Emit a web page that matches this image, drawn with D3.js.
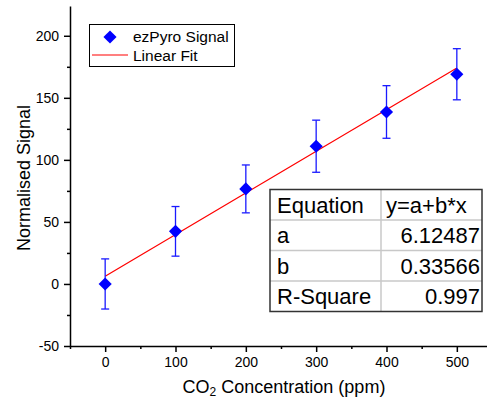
<!DOCTYPE html>
<html>
<head>
<meta charset="utf-8">
<script src="https://cdn.jsdelivr.net/npm/d3@7"></script>
<style>
  body { margin: 0; background: #fff; }
  text { font-family: "Liberation Sans", Arial, sans-serif; }
</style>
</head>
<body>
<svg id="chart" width="487" height="400"></svg>
<script>
// data
var concentrations = [0, 100, 200, 300, 400, 500];
var signals = [0, 42.4, 76.6, 111, 138.6, 169];
var errors = [20.2, 20, 19.3, 21, 21.2, 20.6];
var fitA = 6.12487, fitB = 0.33566;
var tableRows = [["Equation", "y=a+b*x"], ["a", "6.12487"], ["b", "0.33566"], ["R-Square", "0.997"]];
var xTicks = [0, 100, 200, 300, 400, 500];
var yTicks = [-50, 0, 50, 100, 150, 200];

var svg = d3.select("#chart");
var x = d3.scaleLinear().domain([-50, 550]).range([70, 492]);
var y = d3.scaleLinear().domain([-50, 224]).range([346, 6]);

// minor ticks
svg.append("g").attr("transform", "translate(0,346)")
  .call(d3.axisBottom(x).tickValues(d3.range(-50, 551, 100)).tickSize(3).tickFormat(""))
  .call(function (g) { g.select(".domain").remove(); });
svg.append("g").attr("transform", "translate(70,0)")
  .call(d3.axisLeft(y).tickValues(d3.range(-25, 224, 50)).tickSize(3).tickFormat(""))
  .call(function (g) { g.select(".domain").remove(); });

// major axes
var xAxis = svg.append("g").attr("transform", "translate(0,346)")
  .call(d3.axisBottom(x).tickValues(xTicks).tickSize(6).tickPadding(5).tickSizeOuter(0).tickFormat(String));
var yAxis = svg.append("g").attr("transform", "translate(70,0)")
  .call(d3.axisLeft(y).tickValues(yTicks).tickSize(6).tickPadding(5).tickSizeOuter(0).tickFormat(String));
[xAxis, yAxis].forEach(function (g) {
  g.selectAll("text").attr("font-size", 14).attr("fill", "#000")
    .style("font-family", "'Liberation Sans', Arial, sans-serif");
  g.selectAll("line, path").attr("stroke", "#000").attr("stroke-width", 1.5);
});
svg.selectAll("g .tick line").attr("stroke", "#000").attr("stroke-width", 1.5);

// axis titles
var xt = svg.append("text").attr("x", 284).attr("y", 393).attr("text-anchor", "middle").attr("font-size", 18);
xt.append("tspan").text("CO");
xt.append("tspan").attr("font-size", 12).attr("dy", 3).text("2");
xt.append("tspan").attr("dy", -3).text(" Concentration (ppm)");
svg.append("text").attr("transform", "translate(29.5,178) rotate(-90)")
  .attr("text-anchor", "middle").attr("font-size", 18).text("Normalised Signal");

// fit line
svg.append("line")
  .attr("x1", x(0)).attr("y1", y(fitA))
  .attr("x2", x(500)).attr("y2", y(fitA + fitB * 500))
  .attr("stroke", "#ff0000").attr("stroke-width", 1.2);

// error bars
var pts = concentrations.map(function (c, i) { return { x: c, y: signals[i], e: errors[i] }; });
var eb = svg.append("g").attr("stroke", "#1a1aff").attr("stroke-width", 1.3);
eb.selectAll(".v").data(pts).enter().append("line")
  .attr("x1", function (d) { return x(d.x); }).attr("x2", function (d) { return x(d.x); })
  .attr("y1", function (d) { return y(d.y - d.e); }).attr("y2", function (d) { return y(d.y + d.e); });
[-1, 1].forEach(function (s) {
  eb.selectAll(".c" + s).data(pts).enter().append("line")
    .attr("x1", function (d) { return x(d.x) - 4; }).attr("x2", function (d) { return x(d.x) + 4; })
    .attr("y1", function (d) { return y(d.y + s * d.e); }).attr("y2", function (d) { return y(d.y + s * d.e); });
});

// markers
var diamond = d3.symbol().type(d3.symbolDiamond2).size(110);
svg.selectAll(".pt").data(pts).enter().append("path")
  .attr("d", diamond)
  .attr("transform", function (d) { return "translate(" + x(d.x) + "," + y(d.y) + ")"; })
  .attr("fill", "#0000ff");

// legend
var lg = svg.append("g");
lg.append("rect").attr("x", 89.5).attr("y", 24.5).attr("width", 145).attr("height", 42)
  .attr("fill", "#fff").attr("stroke", "#000").attr("stroke-width", 1);
lg.append("path").attr("d", diamond).attr("transform", "translate(110,37)").attr("fill", "#0000ff");
lg.append("line").attr("x1", 92).attr("x2", 128).attr("y1", 55).attr("y2", 55)
  .attr("stroke", "#ff0000").attr("stroke-width", 1.2);
lg.append("text").attr("x", 133).attr("y", 41.5).attr("font-size", 15.5).text("ezPyro Signal");
lg.append("text").attr("x", 133).attr("y", 60.5).attr("font-size", 15.5).text("Linear Fit");

// fit table
var tx = 270, ty = 189.5, rowH = 30.5, col1 = 111, tw = 212;
var tb = svg.append("g");
tb.append("rect").attr("x", tx).attr("y", ty).attr("width", tw).attr("height", rowH * tableRows.length)
  .attr("fill", "#fff");
tableRows.forEach(function (r, i) {
  if (i > 0) tb.append("line").attr("x1", tx).attr("x2", tx + tw)
    .attr("y1", ty + i * rowH).attr("y2", ty + i * rowH).attr("stroke", "#c8c8c8").attr("stroke-width", 1.5);
  tb.append("text").attr("x", tx + 7).attr("y", ty + i * rowH + 23).attr("font-size", 22).text(r[0]);
  tb.append("text").attr("x", i === 0 ? tx + col1 + 5 : tx + tw - 2).attr("y", ty + i * rowH + 23)
    .attr("text-anchor", i === 0 ? "start" : "end").attr("font-size", 22).text(r[1]);
});
tb.append("line").attr("x1", tx + col1).attr("x2", tx + col1).attr("y1", ty).attr("y2", ty + rowH * tableRows.length)
  .attr("stroke", "#c8c8c8").attr("stroke-width", 1.5);
tb.append("rect").attr("x", tx).attr("y", ty).attr("width", tw).attr("height", rowH * tableRows.length)
  .attr("fill", "none").attr("stroke", "#333").attr("stroke-width", 1.5);
</script>
</body>
</html>
